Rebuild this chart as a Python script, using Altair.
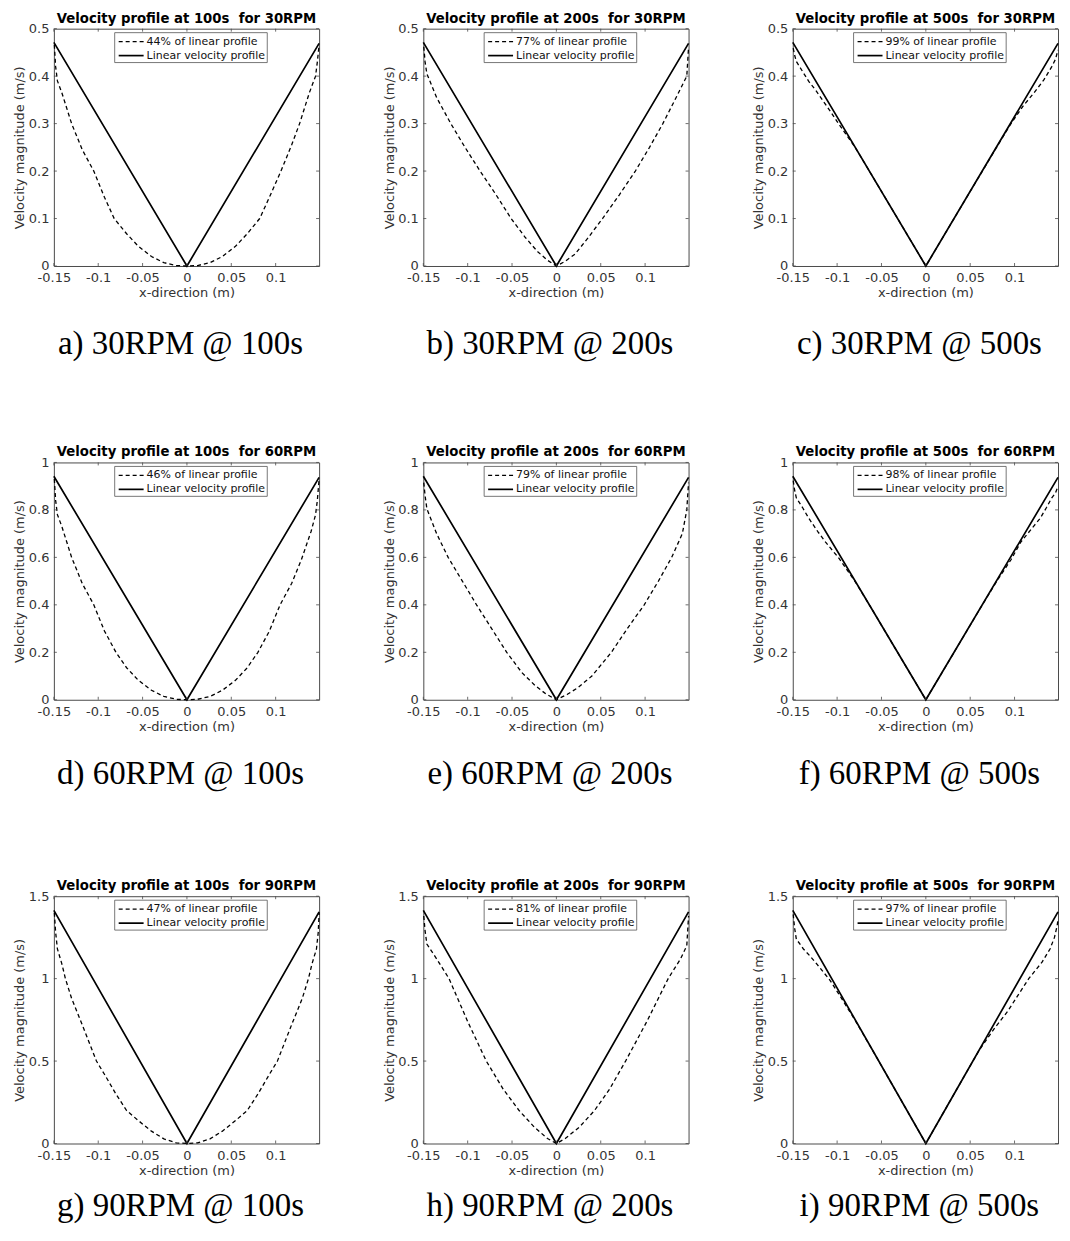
import altair as alt
import pandas as pd

# ---------------- data ----------------
rpm_labels = ["30RPM", "60RPM", "90RPM"]
time_labels = ["100s", "200s", "500s"]
percent_labels = [[44, 77, 99], [46, 79, 98], [47, 81, 97]]
captions = [
    ["a) 30RPM @ 100s", "b) 30RPM @ 200s", "c) 30RPM @ 500s"],
    ["d) 60RPM @ 100s", "e) 60RPM @ 200s", "f) 60RPM @ 500s"],
    ["g) 90RPM @ 100s", "h) 90RPM @ 200s", "i) 90RPM @ 500s"],
]

x_ticks = [-0.15, -0.1, -0.05, 0, 0.05, 0.1]
y_ticks = [
    [0, 0.1, 0.2, 0.3, 0.4, 0.5],
    [0, 0.2, 0.4, 0.6, 0.8, 1],
    [0, 0.5, 1, 1.5],
]
y_max = [0.5, 1.0, 1.5]
x_domain = [-0.15, 0.149]

# linear velocity profile (solid)
linear_x = [-0.15, 0.0, 0.149]
linear_v_30 = [0.471, 0.0, 0.469]
linear_v_60 = [0.942, 0.0, 0.937]
linear_v_90 = [1.414, 0.0, 1.405]

# dashed profiles
x_30_100 = [-0.1495, -0.148, -0.146, -0.141, -0.130, -0.118, -0.105, -0.093, -0.082, -0.068, -0.055, -0.040, -0.026, -0.012, 0.0,
            0.012, 0.026, 0.040, 0.055, 0.068, 0.082, 0.093, 0.106, 0.118, 0.127, 0.138, 0.145, 0.147, 0.149]
v_30_100 = [0.466, 0.42, 0.39, 0.365, 0.30, 0.245, 0.20, 0.145, 0.10, 0.068, 0.042, 0.020, 0.007, 0.001, 0.0,
            0.001, 0.007, 0.020, 0.042, 0.068, 0.100, 0.145, 0.200, 0.255, 0.300, 0.365, 0.400, 0.430, 0.466]

x_30_200 = [-0.1495, -0.148, -0.146, -0.135, -0.119, -0.103, -0.086, -0.068, -0.051, -0.035, -0.021, -0.010, 0.0,
            0.010, 0.021, 0.036, 0.052, 0.071, 0.089, 0.105, 0.120, 0.135, 0.147, 0.148, 0.149]
v_30_200 = [0.462, 0.43, 0.405, 0.355, 0.30, 0.25, 0.20, 0.15, 0.10, 0.06, 0.03, 0.012, 0.0,
            0.010, 0.025, 0.060, 0.10, 0.15, 0.20, 0.25, 0.30, 0.355, 0.40, 0.43, 0.462]

x_30_500 = [-0.1495, -0.148, -0.146, -0.139, -0.132, -0.124, -0.117, -0.108, -0.0985, -0.080, -0.0637, -0.0318, 0.0,
            0.0318, 0.0637, 0.080, 0.096, 0.110, 0.122, 0.133, 0.142, 0.146, 0.149]
v_30_500 = [0.459, 0.445, 0.431, 0.41, 0.389, 0.37, 0.351, 0.327, 0.30, 0.251, 0.200, 0.100, 0.0,
            0.100, 0.200, 0.251, 0.300, 0.338, 0.365, 0.392, 0.42, 0.435, 0.455]

x_60_100 = [-0.1495, -0.148, -0.146, -0.141, -0.130, -0.118, -0.105, -0.093, -0.080, -0.068, -0.055, -0.040, -0.026, -0.012, 0.0,
            0.012, 0.026, 0.040, 0.055, 0.068, 0.080, 0.093, 0.105, 0.118, 0.129, 0.140, 0.145, 0.147, 0.149]
v_60_100 = [0.93, 0.84, 0.78, 0.73, 0.60, 0.49, 0.40, 0.29, 0.20, 0.135, 0.083, 0.040, 0.014, 0.002, 0.0,
            0.002, 0.014, 0.040, 0.083, 0.135, 0.20, 0.29, 0.40, 0.49, 0.59, 0.71, 0.78, 0.84, 0.93]

x_60_200 = [-0.1495, -0.148, -0.146, -0.135, -0.122, -0.106, -0.090, -0.073, -0.056, -0.039, -0.024, -0.012, 0.0,
            0.012, 0.024, 0.040, 0.062, 0.080, 0.099, 0.115, 0.130, 0.142, 0.147, 0.148, 0.149]
v_60_200 = [0.915, 0.86, 0.805, 0.70, 0.60, 0.50, 0.40, 0.30, 0.20, 0.115, 0.060, 0.025, 0.0,
            0.022, 0.050, 0.10, 0.20, 0.30, 0.40, 0.50, 0.60, 0.70, 0.80, 0.86, 0.915]

x_60_500 = [-0.1495, -0.148, -0.146, -0.139, -0.132, -0.122, -0.113, -0.0985, -0.080, -0.060, -0.030, 0.0,
            0.030, 0.060, 0.080, 0.096, 0.107, 0.118, 0.129, 0.136, 0.142, 0.146, 0.149]
v_60_500 = [0.923, 0.885, 0.851, 0.81, 0.765, 0.71, 0.664, 0.599, 0.50, 0.377, 0.188, 0.0,
            0.188, 0.377, 0.50, 0.59, 0.664, 0.715, 0.765, 0.81, 0.851, 0.87, 0.90]

x_90_100 = [-0.1495, -0.148, -0.146, -0.141, -0.137, -0.130, -0.118, -0.102, -0.093, -0.080, -0.068, -0.055, -0.040, -0.026, -0.012, 0.0,
            0.012, 0.026, 0.040, 0.055, 0.068, 0.080, 0.093, 0.102, 0.118, 0.130, 0.137, 0.141, 0.146, 0.148, 0.149]
v_90_100 = [1.40, 1.28, 1.18, 1.09, 1.00, 0.88, 0.72, 0.50, 0.42, 0.30, 0.20, 0.14, 0.075, 0.028, 0.004, 0.0,
            0.004, 0.028, 0.075, 0.14, 0.20, 0.30, 0.42, 0.50, 0.72, 0.88, 1.00, 1.09, 1.18, 1.28, 1.40]

x_90_200 = [-0.1495, -0.148, -0.146, -0.135, -0.121, -0.100, -0.079, -0.060, -0.042, -0.025, -0.010, 0.0,
            0.010, 0.026, 0.043, 0.060, 0.078, 0.102, 0.126, 0.140, 0.147, 0.148, 0.149]
v_90_200 = [1.38, 1.29, 1.21, 1.12, 1.00, 0.74, 0.50, 0.33, 0.20, 0.10, 0.03, 0.0,
            0.03, 0.10, 0.20, 0.33, 0.50, 0.74, 1.00, 1.12, 1.20, 1.29, 1.38]

x_90_500 = [-0.1495, -0.148, -0.146, -0.138, -0.131, -0.120, -0.108, -0.095, -0.080, -0.060, -0.030, 0.0,
            0.030, 0.060, 0.0776, 0.092, 0.104, 0.116, 0.131, 0.140, 0.145, 0.148, 0.149]
v_90_500 = [1.39, 1.31, 1.24, 1.18, 1.14, 1.07, 0.99, 0.88, 0.75, 0.565, 0.283, 0.0,
            0.283, 0.565, 0.70, 0.80, 0.90, 1.00, 1.10, 1.18, 1.25, 1.32, 1.36]

dashed_x = [[x_30_100, x_30_200, x_30_500], [x_60_100, x_60_200, x_60_500], [x_90_100, x_90_200, x_90_500]]
dashed_v = [[v_30_100, v_30_200, v_30_500], [v_60_100, v_60_200, v_60_500], [v_90_100, v_90_200, v_90_500]]
linear_v = [linear_v_30, linear_v_60, linear_v_90]

# ---------------- layout / style ----------------
W = 266
HEIGHTS = [238, 238, 248]
CAPTION_OFFSET = [88, 84, 73]
FONT = "DejaVu Sans"
AX = "#333333"
TICK_LEN = 3


def panel(r, c):
    H = HEIGHTS[r]
    xs = alt.Scale(domain=x_domain, nice=False, zero=False)
    ys = alt.Scale(domain=[0, y_max[r]], nice=False, zero=False)
    xaxis = alt.Axis(values=x_ticks, labelExpr="datum.value + ''", title="x-direction (m)",
                     labelFlush=False, labelOverlap=False, ticks=False, domain=False, grid=False,
                     labelPadding=6, titlePadding=2)
    yaxis = alt.Axis(values=y_ticks[r], labelExpr="datum.value + ''", title="Velocity magnitude (m/s)",
                     labelFlush=False, labelOverlap=False, ticks=False, domain=False, grid=False,
                     labelPadding=5, titleX=-34, titleY=H / 2, titleAngle=270,
                     titleAlign="center", titleBaseline="middle")

    df_d = pd.DataFrame({"x": dashed_x[r][c], "v": dashed_v[r][c]})
    df_l = pd.DataFrame({"x": linear_x, "v": linear_v[r]})

    dashed = alt.Chart(df_d).mark_line(color="black", strokeWidth=1.3, strokeDash=[4, 3]).encode(
        x=alt.X("x:Q", scale=xs, axis=xaxis), y=alt.Y("v:Q", scale=ys, axis=yaxis), order="x:Q")
    solid = alt.Chart(df_l).mark_line(color="black", strokeWidth=1.7).encode(
        x=alt.X("x:Q", scale=xs), y=alt.Y("v:Q", scale=ys), order="x:Q")

    df_xt = pd.DataFrame({"x": x_ticks})
    df_yt = pd.DataFrame({"v": y_ticks[r]})
    tick_style = dict(color="#4a4a4a", strokeWidth=0.8)
    t_bottom = alt.Chart(df_xt).mark_rule(**tick_style).encode(
        x=alt.X("x:Q", scale=xs), y=alt.value(H), y2=alt.value(H - TICK_LEN))
    t_top = alt.Chart(df_xt).mark_rule(**tick_style).encode(
        x=alt.X("x:Q", scale=xs), y=alt.value(0), y2=alt.value(TICK_LEN))
    t_left = alt.Chart(df_yt).mark_rule(**tick_style).encode(
        y=alt.Y("v:Q", scale=ys), x=alt.value(0), x2=alt.value(TICK_LEN))
    t_right = alt.Chart(df_yt).mark_rule(**tick_style).encode(
        y=alt.Y("v:Q", scale=ys), x=alt.value(W), x2=alt.value(W - TICK_LEN))

    labels = [f"{percent_labels[r][c]}% of linear profile", "Linear velocity profile"]
    df_leg = pd.DataFrame({"label": labels})
    box = alt.Chart(df_leg.head(1)).mark_rect(fill="white", stroke="#555555", strokeWidth=0.8).encode(
        x=alt.value(61), x2=alt.value(214), y=alt.value(4), y2=alt.value(34))
    s1 = alt.Chart(df_leg.head(1)).mark_rule(color="black", strokeWidth=1.3, strokeDash=[4, 3]).encode(
        x=alt.value(65), x2=alt.value(90), y=alt.value(13))
    s2 = alt.Chart(df_leg.head(1)).mark_rule(color="black", strokeWidth=1.7).encode(
        x=alt.value(65), x2=alt.value(90), y=alt.value(27))
    l1 = alt.Chart(df_leg.iloc[[0]]).mark_text(font=FONT, fontSize=11, align="left", baseline="middle",
                                               color="#111111").encode(
        text="label:N", x=alt.value(93), y=alt.value(13))
    l2 = alt.Chart(df_leg.iloc[[1]]).mark_text(font=FONT, fontSize=11, align="left", baseline="middle",
                                               color="#111111").encode(
        text="label:N", x=alt.value(93), y=alt.value(27))

    df_title = pd.DataFrame({"title": [f"Velocity profile at {time_labels[c]}\u00a0 for {rpm_labels[r]}"]})
    ttl = alt.Chart(df_title).mark_text(font=FONT, fontSize=13.3, fontWeight="bold", align="center",
                                        baseline="alphabetic", color="black").encode(
        text="title:N", x=alt.value(W / 2), y=alt.value(-6))

    df_cap = pd.DataFrame({"caption": [captions[r][c]]})
    cap = alt.Chart(df_cap).mark_text(font="Liberation Serif", fontSize=33, align="center",
                                      baseline="alphabetic", color="black").encode(
        text="caption:N", x=alt.value(W / 2 - 6), y=alt.value(H + CAPTION_OFFSET[r]))

    return alt.layer(dashed, solid, box, s1, s2, l1, l2, t_bottom, t_top, t_left, t_right, ttl, cap).properties(
        width=W, height=H)


panels = [panel(r, c) for r in range(3) for c in range(3)]
chart = alt.concat(*panels, columns=3, spacing={"row": 197, "column": 104.5},
                   bounds="flush", align="each").properties(
    padding={"left": 5, "top": 1, "right": 0, "bottom": 0},
    background="white",
).configure_view(
    stroke="#4a4a4a", strokeWidth=1
).configure_axis(
    labelFont=FONT, titleFont=FONT, labelFontSize=13, titleFontSize=13,
    titleFontWeight="normal", labelColor=AX, titleColor=AX
)

chart.save("out.html", embed_options={"renderer": "svg", "actions": False})
